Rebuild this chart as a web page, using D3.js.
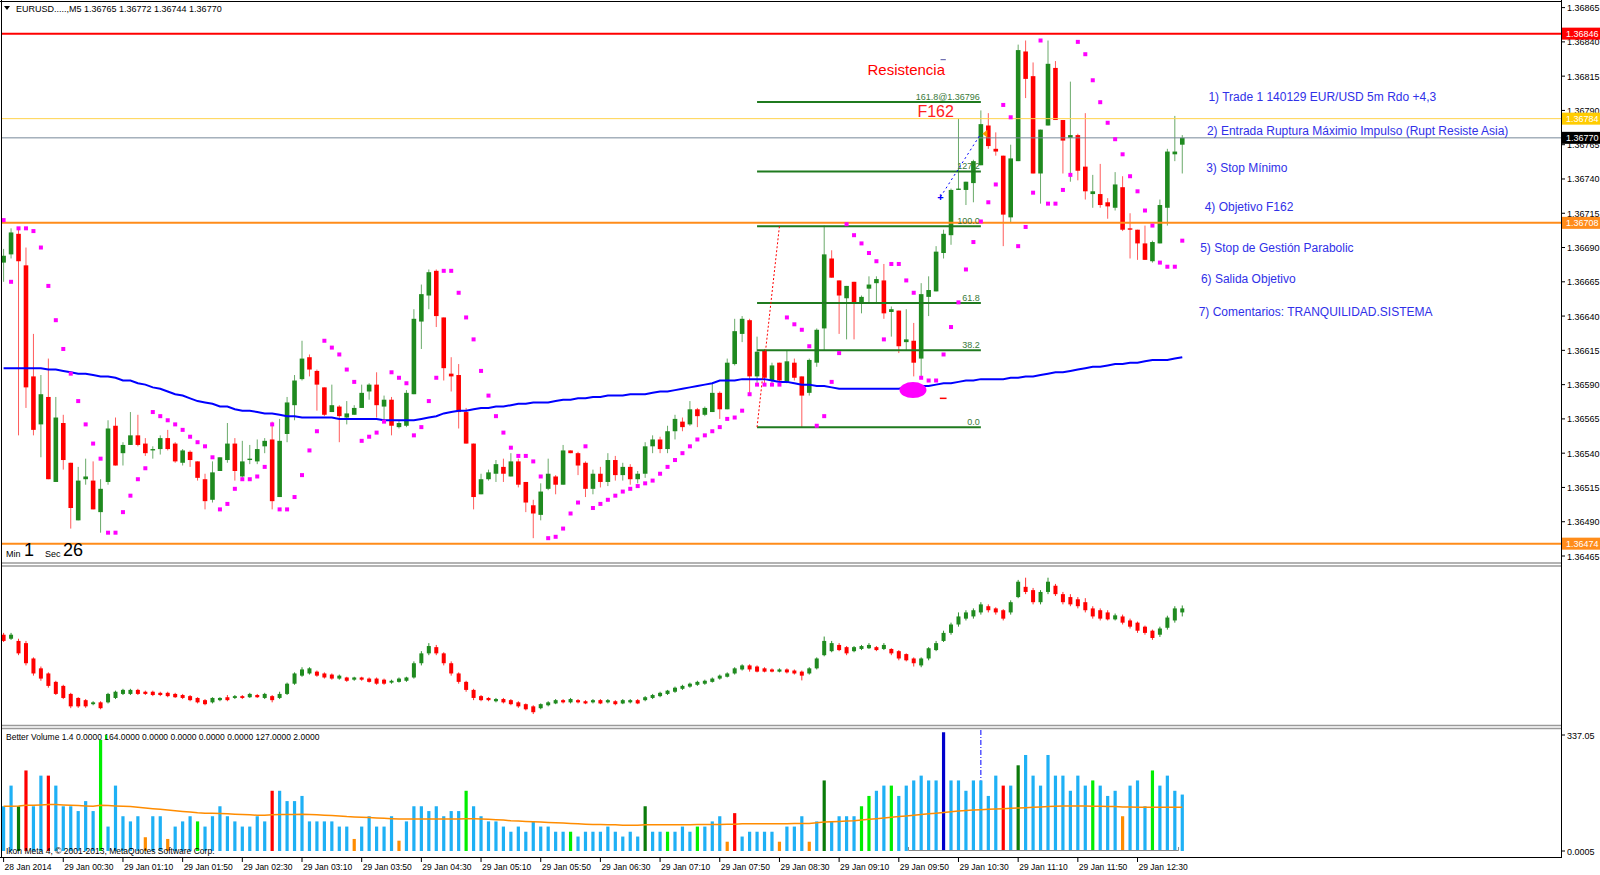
<!DOCTYPE html>
<html><head><meta charset="utf-8">
<script src="https://cdn.jsdelivr.net/npm/d3@7"></script>
<style>body{margin:0;background:#fff;}svg{display:block;font-family:"Liberation Sans",Arial,sans-serif;}</style>
</head><body><svg id="c" width="1600" height="875"></svg>
<script>
// ---------- DATA : main EURUSD M5 candles ----------
const opens=[1.36679,1.36685,1.36700,1.36677,1.36596,1.36561,1.36581,1.36519,1.36562,1.36533,1.36491,1.36521,1.36520,1.36497,1.36519,1.36560,1.36540,1.36546,1.36553,1.36547,1.36542,1.36543,1.36551,1.36547,1.36533,1.36541,1.36534,1.36521,1.36506,1.36527,1.36535,1.36547,1.36523,1.36535,1.36534,1.36545,1.36550,1.36508,1.36554,1.36575,1.36594,1.36610,1.36600,1.36588,1.36570,1.36574,1.36566,1.36568,1.36573,1.36585,1.36590,1.36574,1.36579,1.36559,1.36560,1.36583,1.36636,1.36655,1.36673,1.36639,1.36598,1.36597,1.36570,1.36547,1.36510,1.36521,1.36525,1.36530,1.36523,1.36534,1.36519,1.36502,1.36495,1.36514,1.36523,1.36517,1.36542,1.36540,1.36533,1.36514,1.36525,1.36519,1.36535,1.36524,1.36530,1.36521,1.36525,1.36545,1.36550,1.36543,1.36556,1.36563,1.36561,1.36572,1.36568,1.36570,1.36584,1.36572,1.36605,1.36627,1.36637,1.36596,1.36615,1.36593,1.36606,1.36592,1.36606,1.36596,1.36584,1.36606,1.36631,1.36682,1.36666,1.36653,1.36665,1.36649,1.36660,1.36664,1.36666,1.36643,1.36644,1.36621,1.36622,1.36609,1.36654,1.36658,1.36686,1.36699,1.36732,1.36732,1.36737,1.36750,1.36779,1.36762,1.36757,1.36712,1.36753,1.36833,1.36815,1.36744,1.36779,1.36821,1.36783,1.36770,1.36772,1.36749,1.36729,1.36729,1.36723,1.36719,1.36734,1.36704,1.36703,1.36693,1.36680,1.36693,1.36719,1.36758,1.36765];
const highs=[1.36689,1.36704,1.36704,1.36690,1.36627,1.36597,1.36609,1.36581,1.36568,1.36533,1.36530,1.36536,1.36534,1.36521,1.36564,1.36566,1.36548,1.36570,1.36568,1.36551,1.36545,1.36553,1.36557,1.36548,1.36543,1.36542,1.36534,1.36525,1.36534,1.36537,1.36562,1.36551,1.36549,1.36546,1.36550,1.36551,1.36563,1.36565,1.36581,1.36597,1.36622,1.36612,1.36601,1.36588,1.36590,1.36575,1.36578,1.36575,1.36590,1.36591,1.36599,1.36582,1.36581,1.36564,1.36586,1.36645,1.36663,1.36674,1.36674,1.36639,1.36610,1.36605,1.36573,1.36547,1.36525,1.36528,1.36535,1.36536,1.36540,1.36536,1.36519,1.36506,1.36518,1.36536,1.36524,1.36546,1.36542,1.36541,1.36534,1.36528,1.36530,1.36540,1.36538,1.36533,1.36532,1.36527,1.36548,1.36553,1.36552,1.36560,1.36568,1.36566,1.36578,1.36573,1.36574,1.36591,1.36585,1.36609,1.36638,1.36640,1.36638,1.36625,1.36616,1.36606,1.36606,1.36615,1.36609,1.36596,1.36609,1.36631,1.36706,1.36688,1.36666,1.36662,1.36665,1.36655,1.36669,1.36669,1.36678,1.36647,1.36644,1.36645,1.36635,1.36664,1.36669,1.36691,1.36703,1.36733,1.36784,1.36738,1.36754,1.36790,1.36788,1.36774,1.36757,1.36765,1.36838,1.36841,1.36825,1.36776,1.36841,1.36826,1.36783,1.36811,1.36773,1.36788,1.36743,1.36751,1.36726,1.36745,1.36742,1.36715,1.36703,1.36706,1.36695,1.36725,1.36762,1.36786,1.36772];
const lows=[1.36665,1.36682,1.36553,1.36573,1.36553,1.36537,1.36521,1.36519,1.36528,1.36485,1.36491,1.36517,1.36499,1.36482,1.36517,1.36531,1.36531,1.36546,1.36545,1.36538,1.36536,1.36539,1.36542,1.36533,1.36531,1.36530,1.36520,1.36499,1.36504,1.36527,1.36533,1.36520,1.36522,1.36532,1.36532,1.36540,1.36499,1.36508,1.36548,1.36564,1.36593,1.36596,1.36571,1.36567,1.36570,1.36548,1.36561,1.36568,1.36573,1.36579,1.36566,1.36562,1.36553,1.36558,1.36559,1.36583,1.36616,1.36645,1.36632,1.36593,1.36585,1.36558,1.36547,1.36499,1.36510,1.36520,1.36519,1.36519,1.36523,1.36515,1.36497,1.36478,1.36491,1.36513,1.36510,1.36517,1.36540,1.36524,1.36508,1.36510,1.36515,1.36516,1.36520,1.36520,1.36517,1.36518,1.36522,1.36540,1.36540,1.36540,1.36550,1.36556,1.36560,1.36559,1.36567,1.36570,1.36565,1.36572,1.36604,1.36621,1.36584,1.36591,1.36590,1.36591,1.36591,1.36591,1.36593,1.36559,1.36582,1.36603,1.36615,1.36668,1.36627,1.36623,1.36623,1.36642,1.36649,1.36649,1.36638,1.36625,1.36613,1.36615,1.36596,1.36596,1.36640,1.36658,1.36682,1.36692,1.36732,1.36721,1.36723,1.36750,1.36762,1.36757,1.36691,1.36708,1.36753,1.36799,1.36744,1.36722,1.36779,1.36783,1.36744,1.36738,1.36739,1.36725,1.36719,1.36719,1.36711,1.36717,1.36702,1.36682,1.36681,1.36681,1.36679,1.36693,1.36706,1.36753,1.36744];
const closes=[1.36684,1.36701,1.36680,1.36588,1.36557,1.36583,1.36521,1.36566,1.36535,1.36500,1.36520,1.36523,1.36499,1.36514,1.36558,1.36531,1.36546,1.36553,1.36546,1.36540,1.36543,1.36551,1.36543,1.36534,1.36542,1.36535,1.36522,1.36505,1.36526,1.36537,1.36547,1.36527,1.36534,1.36536,1.36543,1.36549,1.36505,1.36549,1.36577,1.36593,1.36609,1.36601,1.36590,1.36568,1.36575,1.36567,1.36569,1.36573,1.36584,1.36590,1.36575,1.36579,1.36560,1.36562,1.36584,1.36638,1.36656,1.36672,1.36640,1.36602,1.36596,1.36570,1.36547,1.36508,1.36521,1.36526,1.36532,1.36525,1.36534,1.36517,1.36504,1.36496,1.36512,1.36525,1.36517,1.36542,1.36540,1.36531,1.36514,1.36525,1.36519,1.36535,1.36524,1.36530,1.36521,1.36525,1.36545,1.36550,1.36543,1.36556,1.36565,1.36559,1.36572,1.36567,1.36573,1.36584,1.36572,1.36606,1.36629,1.36638,1.36596,1.36614,1.36595,1.36604,1.36593,1.36607,1.36595,1.36582,1.36608,1.36630,1.36685,1.36668,1.36655,1.36662,1.36649,1.36654,1.36663,1.36667,1.36642,1.36645,1.36618,1.36623,1.36606,1.36656,1.36659,1.36687,1.36700,1.36732,1.36733,1.36738,1.36753,1.36780,1.36764,1.36760,1.36714,1.36755,1.36834,1.36813,1.36744,1.36776,1.36824,1.36783,1.36768,1.36772,1.36746,1.36731,1.36731,1.36721,1.36720,1.36736,1.36703,1.36703,1.36693,1.36681,1.36694,1.36721,1.36760,1.36760,1.36770];
const sar=[1.36710,1.36665,1.36704,1.36704,1.36702,1.36690,1.36662,1.36637,1.36616,1.36598,1.36578,1.36561,1.36547,1.36536,1.36482,1.36482,1.36497,1.36509,1.36521,1.36529,1.36570,1.36567,1.36564,1.36561,1.36557,1.36552,1.36548,1.36545,1.36537,1.36499,1.36503,1.36514,1.36521,1.36521,1.36523,1.36530,1.36561,1.36499,1.36499,1.36508,1.36524,1.36542,1.36556,1.36622,1.36617,1.36612,1.36601,1.36592,1.36549,1.36552,1.36555,1.36563,1.36599,1.36595,1.36591,1.36553,1.36559,1.36578,1.36595,1.36673,1.36673,1.36657,1.36639,1.36623,1.36600,1.36582,1.36567,1.36555,1.36544,1.36538,1.36538,1.36534,1.36523,1.36478,1.36479,1.36485,1.36496,1.36504,1.36545,1.36500,1.36503,1.36506,1.36509,1.36512,1.36514,1.36516,1.36518,1.36520,1.36525,1.36530,1.36535,1.36540,1.36545,1.36550,1.36553,1.36556,1.36559,1.36565,1.36566,1.36571,1.36583,1.36590,1.36590,1.36590,1.36590,1.36639,1.36634,1.36630,1.36618,1.36560,1.36567,1.36592,1.36613,1.36707,1.36699,1.36693,1.36686,1.36680,1.36623,1.36678,1.36678,1.36666,1.36657,1.36595,1.36593,1.36593,1.36612,1.36632,1.36650,1.36674,1.36694,1.36709,1.36723,1.36736,1.36794,1.36785,1.36691,1.36705,1.36730,1.36841,1.36722,1.36722,1.36732,1.36743,1.36840,1.36831,1.36812,1.36796,1.36781,1.36769,1.36758,1.36742,1.36731,1.36717,1.36706,1.36679,1.36676,1.36676,1.36695];
const ma=[1.36602,1.36602,1.36602,1.36602,1.36602,1.36602,1.36601,1.36601,1.36600,1.36599,1.36598,1.36598,1.36597,1.36596,1.36596,1.36595,1.36593,1.36593,1.36591,1.36590,1.36588,1.36587,1.36585,1.36583,1.36582,1.36580,1.36578,1.36577,1.36576,1.36574,1.36574,1.36572,1.36571,1.36571,1.36570,1.36569,1.36569,1.36568,1.36567,1.36567,1.36566,1.36566,1.36566,1.36566,1.36566,1.36565,1.36565,1.36565,1.36565,1.36565,1.36565,1.36564,1.36564,1.36564,1.36564,1.36564,1.36565,1.36566,1.36567,1.36569,1.36570,1.36571,1.36571,1.36572,1.36573,1.36573,1.36574,1.36574,1.36575,1.36576,1.36576,1.36577,1.36577,1.36577,1.36578,1.36579,1.36579,1.36580,1.36580,1.36581,1.36581,1.36582,1.36582,1.36582,1.36583,1.36583,1.36583,1.36584,1.36585,1.36585,1.36586,1.36587,1.36588,1.36589,1.36590,1.36591,1.36593,1.36593,1.36593,1.36594,1.36594,1.36594,1.36594,1.36593,1.36592,1.36592,1.36591,1.36590,1.36590,1.36589,1.36589,1.36588,1.36587,1.36587,1.36587,1.36587,1.36587,1.36587,1.36587,1.36587,1.36587,1.36588,1.36588,1.36589,1.36589,1.36590,1.36591,1.36591,1.36592,1.36593,1.36593,1.36594,1.36594,1.36594,1.36594,1.36595,1.36595,1.36596,1.36596,1.36597,1.36598,1.36599,1.36599,1.36600,1.36601,1.36602,1.36603,1.36603,1.36604,1.36605,1.36605,1.36606,1.36606,1.36607,1.36608,1.36608,1.36608,1.36609,1.36610];
// ---------- DATA : middle panel (smoothed candles) ----------
const mOpen=[1.36695,1.36684,1.36678,1.36672,1.36630,1.36603,1.36589,1.36566,1.36555,1.36533,1.36522,1.36516,1.36505,1.36510,1.36510,1.36522,1.36533,1.36533,1.36544,1.36539,1.36539,1.36536,1.36536,1.36533,1.36530,1.36527,1.36522,1.36516,1.36510,1.36516,1.36524,1.36522,1.36527,1.36524,1.36530,1.36522,1.36527,1.36522,1.36533,1.36561,1.36583,1.36589,1.36594,1.36589,1.36586,1.36575,1.36578,1.36572,1.36578,1.36575,1.36575,1.36572,1.36564,1.36566,1.36569,1.36578,1.36617,1.36644,1.36661,1.36644,1.36617,1.36589,1.36566,1.36544,1.36527,1.36522,1.36513,1.36519,1.36516,1.36510,1.36505,1.36499,1.36494,1.36502,1.36507,1.36516,1.36510,1.36516,1.36513,1.36510,1.36516,1.36510,1.36513,1.36507,1.36510,1.36516,1.36516,1.36522,1.36527,1.36533,1.36539,1.36547,1.36553,1.36558,1.36561,1.36566,1.36575,1.36580,1.36589,1.36600,1.36611,1.36608,1.36603,1.36600,1.36594,1.36600,1.36597,1.36594,1.36589,1.36603,1.36639,1.36650,1.36667,1.36661,1.36650,1.36656,1.36658,1.36661,1.36656,1.36656,1.36650,1.36642,1.36630,1.36611,1.36630,1.36653,1.36678,1.36700,1.36723,1.36739,1.36745,1.36756,1.36773,1.36767,1.36762,1.36756,1.36798,1.36826,1.36817,1.36784,1.36812,1.36829,1.36806,1.36798,1.36792,1.36784,1.36767,1.36762,1.36756,1.36737,1.36745,1.36734,1.36728,1.36717,1.36706,1.36695,1.36714,1.36734,1.36756];
const mHigh=[1.36700,1.36700,1.36684,1.36678,1.36633,1.36608,1.36592,1.36569,1.36558,1.36536,1.36524,1.36519,1.36513,1.36513,1.36536,1.36542,1.36547,1.36547,1.36547,1.36542,1.36542,1.36539,1.36539,1.36536,1.36533,1.36530,1.36524,1.36519,1.36524,1.36524,1.36530,1.36530,1.36530,1.36536,1.36533,1.36536,1.36530,1.36539,1.36564,1.36592,1.36606,1.36606,1.36597,1.36592,1.36589,1.36586,1.36580,1.36580,1.36580,1.36578,1.36578,1.36575,1.36572,1.36578,1.36580,1.36622,1.36650,1.36672,1.36667,1.36647,1.36622,1.36592,1.36569,1.36547,1.36530,1.36524,1.36522,1.36522,1.36519,1.36513,1.36507,1.36502,1.36507,1.36513,1.36519,1.36519,1.36522,1.36519,1.36516,1.36519,1.36519,1.36519,1.36516,1.36519,1.36519,1.36519,1.36527,1.36533,1.36539,1.36544,1.36553,1.36558,1.36564,1.36569,1.36572,1.36578,1.36586,1.36592,1.36606,1.36614,1.36614,1.36611,1.36606,1.36603,1.36603,1.36603,1.36600,1.36597,1.36606,1.36633,1.36690,1.36678,1.36672,1.36664,1.36664,1.36667,1.36672,1.36664,1.36672,1.36658,1.36653,1.36644,1.36633,1.36633,1.36661,1.36678,1.36706,1.36728,1.36756,1.36762,1.36767,1.36784,1.36778,1.36770,1.36765,1.36789,1.36845,1.36851,1.36823,1.36817,1.36851,1.36834,1.36812,1.36806,1.36798,1.36795,1.36773,1.36767,1.36762,1.36753,1.36750,1.36739,1.36731,1.36720,1.36709,1.36717,1.36747,1.36773,1.36775];
const mLow=[1.36675,1.36681,1.36639,1.36611,1.36583,1.36569,1.36550,1.36530,1.36519,1.36494,1.36495,1.36495,1.36502,1.36491,1.36507,1.36519,1.36530,1.36530,1.36530,1.36530,1.36527,1.36527,1.36524,1.36522,1.36519,1.36513,1.36507,1.36502,1.36507,1.36513,1.36513,1.36519,1.36519,1.36522,1.36522,1.36519,1.36510,1.36519,1.36530,1.36558,1.36580,1.36586,1.36580,1.36575,1.36572,1.36572,1.36566,1.36569,1.36569,1.36564,1.36558,1.36558,1.36561,1.36564,1.36566,1.36575,1.36611,1.36639,1.36639,1.36611,1.36583,1.36561,1.36539,1.36516,1.36513,1.36513,1.36510,1.36507,1.36502,1.36495,1.36488,1.36478,1.36491,1.36499,1.36505,1.36507,1.36507,1.36507,1.36505,1.36507,1.36505,1.36507,1.36502,1.36505,1.36507,1.36505,1.36513,1.36519,1.36524,1.36530,1.36536,1.36544,1.36550,1.36555,1.36558,1.36564,1.36572,1.36578,1.36586,1.36597,1.36594,1.36592,1.36592,1.36592,1.36592,1.36589,1.36586,1.36570,1.36586,1.36600,1.36636,1.36647,1.36650,1.36639,1.36647,1.36653,1.36656,1.36650,1.36653,1.36639,1.36625,1.36622,1.36608,1.36606,1.36625,1.36650,1.36675,1.36695,1.36717,1.36734,1.36739,1.36750,1.36756,1.36750,1.36734,1.36750,1.36795,1.36806,1.36778,1.36778,1.36806,1.36801,1.36778,1.36773,1.36767,1.36756,1.36739,1.36734,1.36734,1.36734,1.36723,1.36712,1.36700,1.36695,1.36681,1.36689,1.36709,1.36728,1.36745];
const mClose=[1.36678,1.36695,1.36644,1.36617,1.36589,1.36575,1.36555,1.36533,1.36522,1.36499,1.36499,1.36499,1.36510,1.36494,1.36533,1.36539,1.36544,1.36544,1.36533,1.36533,1.36530,1.36530,1.36527,1.36524,1.36522,1.36516,1.36510,1.36505,1.36522,1.36522,1.36516,1.36527,1.36522,1.36533,1.36524,1.36533,1.36516,1.36533,1.36561,1.36589,1.36600,1.36603,1.36583,1.36578,1.36575,1.36583,1.36569,1.36578,1.36572,1.36566,1.36561,1.36561,1.36569,1.36575,1.36578,1.36617,1.36644,1.36664,1.36644,1.36617,1.36589,1.36566,1.36544,1.36522,1.36516,1.36516,1.36519,1.36510,1.36505,1.36499,1.36491,1.36483,1.36505,1.36510,1.36516,1.36510,1.36519,1.36510,1.36507,1.36516,1.36507,1.36516,1.36505,1.36516,1.36516,1.36507,1.36524,1.36530,1.36536,1.36542,1.36550,1.36555,1.36561,1.36566,1.36569,1.36575,1.36583,1.36589,1.36603,1.36611,1.36600,1.36594,1.36594,1.36594,1.36600,1.36592,1.36589,1.36583,1.36603,1.36630,1.36678,1.36672,1.36653,1.36644,1.36661,1.36664,1.36667,1.36653,1.36667,1.36644,1.36630,1.36625,1.36617,1.36630,1.36658,1.36672,1.36700,1.36723,1.36745,1.36756,1.36762,1.36778,1.36762,1.36756,1.36739,1.36784,1.36840,1.36812,1.36784,1.36812,1.36840,1.36806,1.36784,1.36778,1.36773,1.36762,1.36745,1.36739,1.36737,1.36748,1.36728,1.36717,1.36706,1.36700,1.36686,1.36712,1.36742,1.36767,1.36767];
// ---------- DATA : Better Volume ----------
const vol=[130,190,130,234,130,219,219,190,130,130,116,145,116,323,71,190,101,86,101,40,101,101,35,71,86,101,86,71,101,130,101,86,71,71,101,86,175,175,145,145,160,86,86,86,86,71,71,35,71,101,71,71,101,30,86,130,130,116,130,101,116,116,175,130,101,86,86,71,56,71,56,86,71,71,56,56,56,42,56,56,56,71,56,42,56,42,130,56,56,56,56,71,56,71,71,86,101,27,110,42,56,56,56,56,27,71,71,101,27,86,205,86,101,101,101,130,160,175,190,190,160,190,205,219,205,205,345,205,205,175,205,205,160,219,190,190,249,279,219,190,279,219,219,175,219,190,205,190,160,175,101,190,205,130,234,190,219,175,164];
const volType=["b","b","dg","r","b","b","r","b","b","b","b","b","b","g","b","b","b","b","b","o","b","b","o","b","b","b","g","b","b","b","b","b","b","b","b","b","r","b","b","b","b","b","b","b","b","b","b","o","b","b","b","b","b","o","b","b","b","b","b","b","b","b","g","b","b","b","b","b","b","b","b","b","b","b","b","b","g","b","b","b","b","b","b","b","b","b","dg","b","b","g","b","b","b","g","b","b","b","o","r","b","b","b","b","b","o","b","b","b","o","b","dg","b","b","b","b","g","g","b","b","g","b","b","b","b","b","b","db","b","b","b","b","b","b","b","r","b","dg","b","b","b","b","b","b","b","b","b","g","b","b","b","o","b","b","b","g","b","b","b","b"];
const volMA=[130,130,131,133,133,134,135,135,134,133,132,131,130,133,132,131,130,129,127,125,123,121,119,117,115,113,111,110,110,109,108,107,106,105,104,104,105,106,106,106,107,106,105,104,103,102,100,99,98,97,96,95,94,93,93,93,93,93,93,93,93,93,94,94,93,92,91,90,88,87,86,85,84,83,82,81,80,79,78,77,77,76,76,75,75,75,76,76,76,76,76,76,76,77,77,77,77,78,78,79,79,79,79,79,79,79,80,80,80,82,84,85,86,87,88,90,92,94,96,98,100,102,104,106,108,110,112,114,116,118,119,120,121,122,123,124,125,126,127,128,129,130,131,131,131,131,130,130,129,129,128,128,127,127,127,127,127,127,127];
// ---------- DATA : axes, levels, notes ----------
const timeLabels=["28 Jan 2014","29 Jan 00:30","29 Jan 01:10","29 Jan 01:50","29 Jan 02:30","29 Jan 03:10","29 Jan 03:50","29 Jan 04:30","29 Jan 05:10","29 Jan 05:50","29 Jan 06:30","29 Jan 07:10","29 Jan 07:50","29 Jan 08:30","29 Jan 09:10","29 Jan 09:50","29 Jan 10:30","29 Jan 11:10","29 Jan 11:50","29 Jan 12:30"];
const priceTicks=[1.36465,1.36490,1.36515,1.36540,1.36565,1.36590,1.36615,1.36640,1.36665,1.36690,1.36715,1.36740,1.36765,1.36790,1.36815,1.36840,1.36865];
const hLines=[{p:1.36846,c:"#ff0000",bg:"#ff0000",w:2},{p:1.36784,c:"#ffd34d",bg:"#ffcc00",w:1},{p:1.36770,c:"#778899",bg:"#000000",w:1},{p:1.36708,c:"#ff8c1a",bg:"#ff8c1a",w:2},{p:1.36474,c:"#ff8c1a",bg:"#ff8c1a",w:2}];
const fibLevels=[0,38.2,61.8,100,127.2,161.8];
const fibLow=1.36559, fibHigh=1.367056;
const notes=["1) Trade 1 140129 EUR/USD 5m Rdo +4,3","2) Entrada Ruptura Máximio Impulso (Rupt Resiste Asia)","3) Stop Mínimo","4) Objetivo F162","5) Stop de Gestión Parabolic","6) Salida Objetivo","7) Comentarios: TRANQUILIDAD.SISTEMA"];
const notePrices=[1.36797,1.36772,1.36745,1.36717,1.36687,1.36664,1.36640];
const noteBars=[161.5,161.3,161.2,161.0,160.4,160.5,160.2];

// ---------- LAYOUT ----------
const svg=d3.select("#c");
const N=opens.length;
const AX=1561;
const x=d3.scaleLinear().domain([0,N-1]).range([3.6,3.6+(N-1)*7.46]);
const y=d3.scaleLinear().domain([1.36465,1.36865]).range([556,7.6]);
const ym=d3.scaleLinear().domain([1.36448,1.36883]).range([725,566]);
const yv=d3.scaleLinear().domain([0,337.05]).range([851,735]);
const volColor={b:"#1eb0f5",r:"#ff0000",g:"#00ee00",dg:"#0a7a0a",o:"#ff8c00",db:"#0000cc"};
const defs=svg.append("defs");
defs.append("clipPath").attr("id","cm").append("rect").attr("x",2).attr("y",1).attr("width",AX-2).attr("height",561);
defs.append("clipPath").attr("id","cmid").append("rect").attr("x",2).attr("y",567).attr("width",AX-2).attr("height",157);
defs.append("clipPath").attr("id","cv").append("rect").attr("x",2).attr("y",730).attr("width",AX-2).attr("height",127);

svg.append("rect").attr("x",0).attr("y",0).attr("width",1600).attr("height",875).attr("fill","#fff");
const frame=svg.append("g");
frame.append("line").attr("x1",1.5).attr("x2",1.5).attr("y1",0).attr("y2",858).attr("stroke","#000");
frame.append("line").attr("x1",0).attr("x2",AX).attr("y1",1.5).attr("y2",1.5).attr("stroke","#000");
frame.append("line").attr("x1",AX+0.5).attr("x2",AX+0.5).attr("y1",0).attr("y2",858).attr("stroke","#000");
frame.append("line").attr("x1",0).attr("x2",AX).attr("y1",857.5).attr("y2",857.5).attr("stroke","#000");
[563,566,725.5,728.5].forEach(v=>frame.append("line").attr("x1",2).attr("x2",AX).attr("y1",v).attr("y2",v).attr("stroke","#9a9a9a").attr("stroke-width",1.5));

// ---------- main panel ----------
const main=svg.append("g").attr("clip-path","url(#cm)");
const bw=4.6;
d3.range(N).forEach(i=>{
  const o=opens[i],c=closes[i],up=c>=o;
  main.append("line").attr("x1",x(i)).attr("x2",x(i)).attr("y1",y(highs[i])).attr("y2",y(lows[i]))
    .attr("stroke",up?"#6aaa6a":"#ff5c5c").attr("stroke-width",1);
  const yt=y(Math.max(o,c)),yb=y(Math.min(o,c));
  main.append("rect").attr("x",x(i)-bw/2).attr("y",yt).attr("width",bw).attr("height",Math.max(1.2,yb-yt))
    .attr("fill",up?"#1f8a1f":"#ff0000");
});
main.append("path").datum(ma).attr("fill","none").attr("stroke","#0000ff").attr("stroke-width",2)
  .attr("d",d3.line().x((d,i)=>x(i)).y(d=>y(d)));
hLines.forEach(h=>main.append("line").attr("x1",2).attr("x2",AX).attr("y1",y(h.p)).attr("y2",y(h.p))
  .attr("stroke",h.c).attr("stroke-width",h.w));
const fibY=l=>fibLow+(fibHigh-fibLow)*l/100;
fibLevels.forEach(l=>{
  main.append("line").attr("x1",x(101)).attr("x2",x(131)).attr("y1",y(fibY(l))).attr("y2",y(fibY(l)))
    .attr("stroke","#1f7a1f").attr("stroke-width",2);
  const lab=l===161.8?"161.8@"+fibY(l).toFixed(5):l.toFixed(1);
  main.append("text").attr("x",x(131)-1).attr("y",y(fibY(l))-2).attr("text-anchor","end")
    .attr("font-size",9).attr("fill","#3a7a3a").text(lab);
});
main.append("line").attr("x1",x(101)).attr("y1",y(fibLow)).attr("x2",x(104)).attr("y2",y(fibHigh))
  .attr("stroke","#ff0000").attr("stroke-dasharray","2,2");
main.append("line").attr("x1",x(125.6)).attr("y1",y(1.36727)).attr("x2",x(131)).attr("y2",y(1.36773))
  .attr("stroke","#0000ff").attr("stroke-dasharray","2,3");
main.append("text").attr("x",x(125.6)).attr("y",y(1.36727)+4).attr("text-anchor","middle").attr("font-size",11).attr("font-weight","bold").attr("fill","#0000ff").text("+");
main.append("path").attr("d",`M${x(131.2)},${y(1.36773)} l5,-4 l0,8 z`).attr("fill","#ff9900");
d3.range(N).forEach(i=>main.append("rect").attr("x",x(i)-2).attr("y",y(sar[i])-2).attr("width",4).attr("height",4).attr("fill","#ff00ff"));
main.append("ellipse").attr("cx",x(121.9)).attr("cy",y(1.36586)).attr("rx",13.5).attr("ry",8).attr("fill","#ff00ff");
main.append("line").attr("x1",x(125.5)).attr("x2",x(126.4)).attr("y1",y(1.36580)).attr("y2",y(1.36580)).attr("stroke","#ff0000").attr("stroke-width",1.5);
main.append("line").attr("x1",x(125.6)).attr("x2",x(126.3)).attr("y1",y(1.36827)).attr("y2",y(1.36827)).attr("stroke","#5050a0").attr("stroke-width",1);
main.append("text").attr("x",x(115.8)).attr("y",y(1.36816)).attr("font-size",15).attr("fill","#ff0000").text("Resistencia");
main.append("text").attr("x",x(122.5)).attr("y",y(1.36785)).attr("font-size",16).attr("fill","#ff2020").text("F162");
notes.forEach((t,k)=>main.append("text").attr("x",x(noteBars[k])).attr("y",y(notePrices[k])).attr("font-size",12).attr("fill","#3030e8").text(t));

svg.append("path").attr("d","M4,6 l6,0 l-3,4 z").attr("fill","#000");
svg.append("text").attr("x",16).attr("y",12).attr("font-size",9).attr("fill","#000").text("EURUSD.....,M5  1.36765 1.36772 1.36744 1.36770");
svg.append("text").attr("x",6).attr("y",557).attr("font-size",9).text("Min");
svg.append("text").attr("x",24).attr("y",556).attr("font-size",18).text("1");
svg.append("text").attr("x",45).attr("y",557).attr("font-size",9).text("Sec");
svg.append("text").attr("x",63).attr("y",556).attr("font-size",18).text("26");

// ---------- middle panel ----------
const mid=svg.append("g").attr("clip-path","url(#cmid)");
d3.range(N).forEach(i=>{
  const o=mOpen[i],c=mClose[i],up=c>=o;
  mid.append("line").attr("x1",x(i)).attr("x2",x(i)).attr("y1",ym(mHigh[i])).attr("y2",ym(mLow[i]))
    .attr("stroke",up?"#2f8f2f":"#ff3030").attr("stroke-width",1);
  const yt=ym(Math.max(o,c)),yb=ym(Math.min(o,c));
  mid.append("rect").attr("x",x(i)-2).attr("y",yt).attr("width",4).attr("height",Math.max(1.2,yb-yt))
    .attr("fill",up?"#1f8a1f":"#ff0000");
});

// ---------- volume panel ----------
const vg=svg.append("g").attr("clip-path","url(#cv)");
d3.range(N).forEach(i=>{
  vg.append("rect").attr("x",x(i)-1.6).attr("y",yv(vol[i])).attr("width",3.2).attr("height",yv(0)-yv(vol[i]))
    .attr("fill",volColor[volType[i]]);
});
vg.append("path").datum(volMA).attr("fill","none").attr("stroke","#ff8c00").attr("stroke-width",1.5)
  .attr("d",d3.line().x((d,i)=>x(i)).y(d=>yv(d)));
vg.append("line").attr("x1",x(131)).attr("x2",x(131)).attr("y1",730).attr("y2",yv(vol[131]))
  .attr("stroke","#0000ff").attr("stroke-dasharray","5,2,1,2");
vg.append("path").attr("d",`M${x(121.3)},847 V850.5 H${x(157.5)} V847`).attr("fill","none").attr("stroke","#888");
svg.append("text").attr("x",6).attr("y",740).attr("font-size",8.5).text("Better Volume 1.4 0.0000 164.0000 0.0000 0.0000 0.0000 0.0000 127.0000 2.0000");
svg.append("rect").attr("x",105).attr("y",735).attr("width",2).attr("height",4).attr("fill","#00cc00");
svg.append("text").attr("x",6).attr("y",854).attr("font-size",8.5).text("Ikon Meta 4, © 2001-2013, MetaQuotes Software Corp.");

// ---------- axes ----------
const ax=svg.append("g");
priceTicks.forEach(p=>{
  ax.append("line").attr("x1",AX).attr("x2",AX+4).attr("y1",y(p)).attr("y2",y(p)).attr("stroke","#000");
  ax.append("text").attr("x",AX+6).attr("y",y(p)+3.5).attr("font-size",9).attr("fill","#000").text(p.toFixed(5));
});
hLines.forEach(h=>{
  ax.append("rect").attr("x",AX+1).attr("y",y(h.p)-6).attr("width",1600-AX).attr("height",12).attr("fill",h.bg);
  ax.append("text").attr("x",AX+5).attr("y",y(h.p)+3.5).attr("font-size",9).attr("fill","#fff").text(h.p.toFixed(5));
});
ax.append("line").attr("x1",AX).attr("x2",AX+4).attr("y1",yv(337.05)).attr("y2",yv(337.05)).attr("stroke","#000");
ax.append("text").attr("x",AX+6).attr("y",yv(337.05)+3.5).attr("font-size",9).text("337.05");
ax.append("line").attr("x1",AX).attr("x2",AX+4).attr("y1",yv(0)).attr("y2",yv(0)).attr("stroke","#000");
ax.append("text").attr("x",AX+6).attr("y",yv(0)+3.5).attr("font-size",9).text("0.0005");
timeLabels.forEach((t,k)=>{
  const xx=x(k*8);
  svg.append("line").attr("x1",xx).attr("x2",xx).attr("y1",858).attr("y2",862).attr("stroke","#000");
  svg.append("text").attr("x",xx+1).attr("y",870).attr("font-size",8.5).text(t);
});
</script></body></html>
